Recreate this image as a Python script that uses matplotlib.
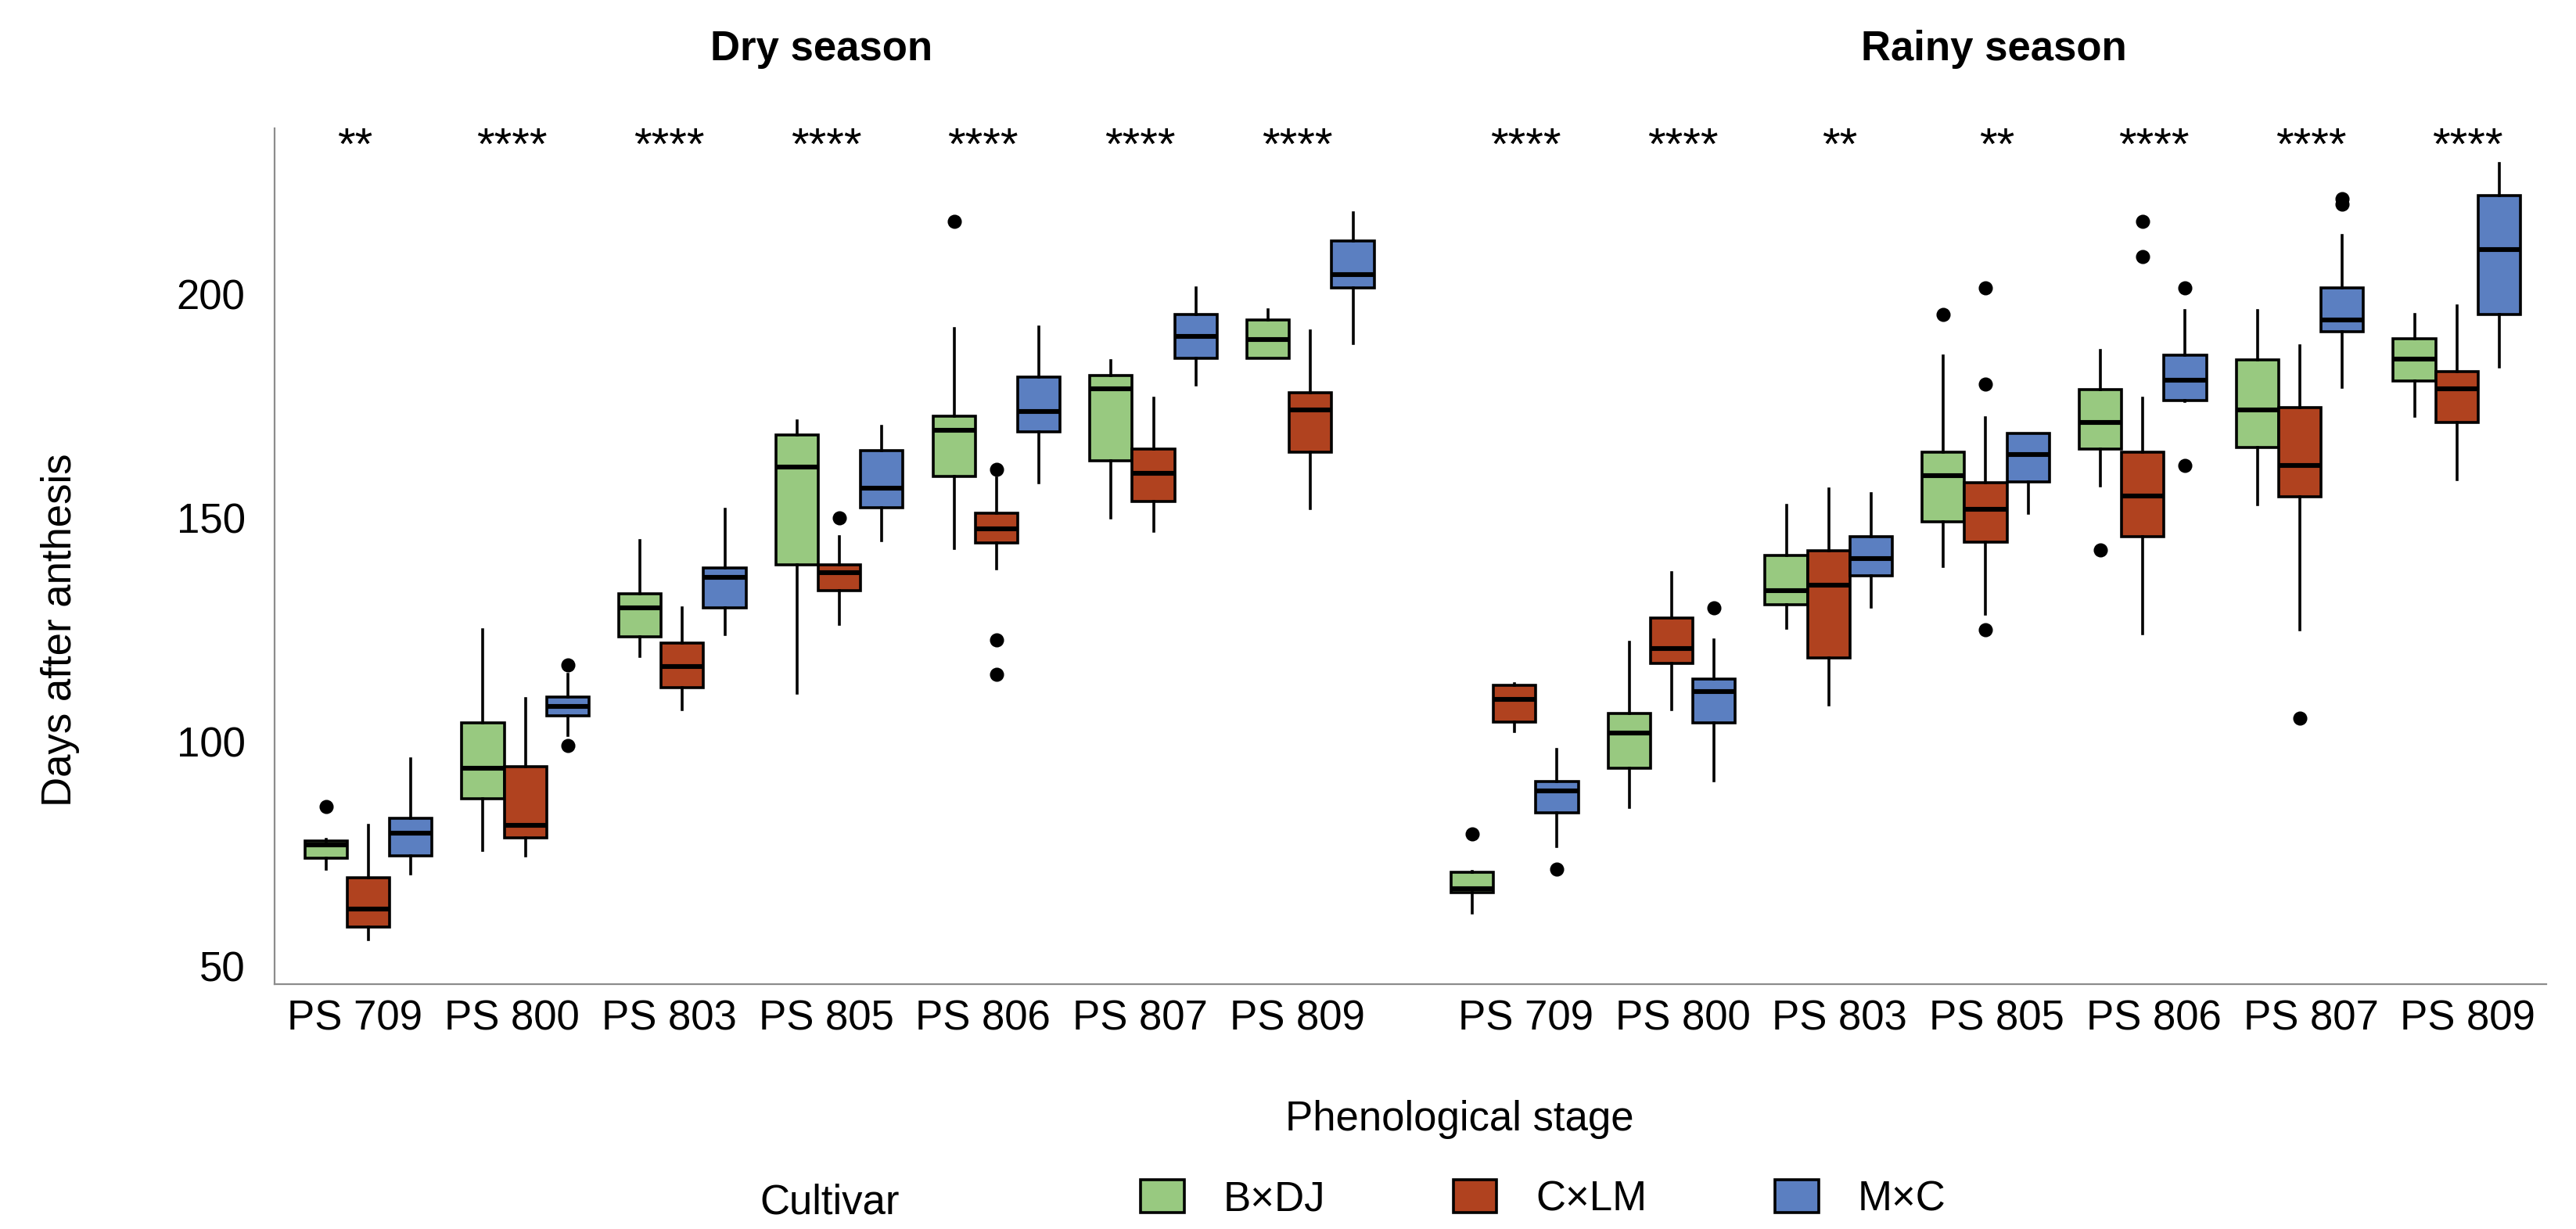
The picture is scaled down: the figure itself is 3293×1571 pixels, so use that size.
import matplotlib
matplotlib.use("Agg")
import matplotlib.pyplot as plt
from matplotlib.patches import Patch
import numpy as np

plt.rcParams['font.family'] = ['Liberation Sans', 'DejaVu Sans']

stages = ["PS 709", "PS 800", "PS 803", "PS 805", "PS 806", "PS 807", "PS 809"]
cultivars = ["B×DJ", "C×LM", "M×C"]
colors = ["#98C980", "#B0421F", "#5B7FC1"]

# significance labels per stage
dry_sig = ["**", "****", "****", "****", "****", "****", "****"]
rainy_sig = ["****", "****", "**", "**", "****", "****", "****"]

# box statistics, rows = cultivars (B×DJ, C×LM, M×C)
dry_lo = [[71.5, 75.8, 119.1, 110.9, 143.2, 150.0, 185.6],
          [55.8, 74.5, 107.3, 126.3, 138.7, 147.1, 152.1],
          [70.5, 101.4, 124.0, 144.9, 157.8, 179.7, 189.0]]
dry_q1 = [[74.0, 87.3, 123.5, 139.6, 159.2, 162.7, 185.6],
          [58.6, 78.5, 112.1, 133.7, 144.5, 153.7, 164.7],
          [74.5, 105.8, 129.9, 152.3, 169.2, 185.6, 201.3]]
dry_med = [[77.0, 94.2, 129.9, 161.3, 169.5, 178.8, 189.9],
           [62.6, 81.4, 116.9, 137.8, 147.6, 160.0, 174.1],
           [79.6, 107.9, 136.8, 156.7, 173.7, 190.5, 204.4]]
dry_q3 = [[77.8, 104.2, 133.1, 168.6, 172.7, 181.8, 194.2],
          [69.6, 94.5, 122.1, 139.6, 151.0, 165.3, 177.9],
          [82.9, 110.0, 138.8, 165.1, 181.4, 195.5, 211.9]]
dry_hi = [[78.2, 125.0, 144.9, 171.7, 192.3, 185.1, 196.4],
          [81.4, 109.6, 129.9, 145.8, 159.0, 176.7, 191.8],
          [96.2, 115.0, 151.9, 170.4, 192.6, 201.3, 218.1]]
dry_out = [[[85.5], [], [], [], [216.3], [], []],
           [[], [], [], [150.0], [160.9, 122.8, 115.1], [], []],
           [[], [117.1, 99.1], [], [], [], [], []]]

rainy_lo = [[61.8, 85.3, 125.3, 139.1, 157.1, 153.0, 172.8],
            [102.3, 107.3, 108.3, 128.5, 124.1, 125.0, 158.6],
            [76.7, 91.3, 130.1, 151.0, 176.0, 179.1, 183.7]]
rainy_q1 = [[66.3, 94.2, 130.6, 149.2, 165.4, 165.8, 180.6],
            [104.5, 117.6, 118.8, 144.6, 145.8, 154.7, 171.4],
            [84.1, 104.2, 137.1, 158.1, 176.3, 191.5, 195.5]]
rainy_med = [[67.3, 101.9, 133.8, 159.4, 171.3, 174.1, 185.4],
             [109.5, 120.8, 135.0, 152.0, 154.9, 161.7, 178.8],
             [89.1, 111.2, 141.0, 164.1, 180.8, 194.2, 210.0]]
rainy_q3 = [[70.9, 106.3, 141.7, 164.7, 178.7, 185.3, 190.0],
            [112.6, 127.6, 142.7, 157.8, 164.7, 174.6, 182.7],
            [91.2, 114.1, 145.9, 168.8, 186.4, 201.4, 221.9]]
rainy_hi = [[71.0, 122.2, 152.8, 186.2, 187.4, 196.3, 195.4],
            [113.0, 137.8, 156.5, 172.3, 176.7, 188.5, 197.3],
            [98.3, 122.7, 155.5, 168.8, 196.3, 213.1, 229.1]]
rainy_out = [[[79.4], [], [], [195.5], [142.8], [], []],
             [[], [], [], [201.3, 179.9, 125.0], [216.3, 208.3], [105.3], []],
             [[71.5], [130.0], [], [], [201.3, 161.8], [221.2, 220.1], []]]

fig = plt.figure(figsize=(16.465, 7.855), dpi=200)
ax = fig.add_axes([0.1066, 0.1992, 0.8819, 0.6964])

box_w = 0.27
group_x = np.arange(len(stages))
seasons = [
    (group_x, dry_lo, dry_q1, dry_med, dry_q3, dry_hi, dry_out, dry_sig, -0.085),
    (group_x + 7.3, rainy_lo, rainy_q1, rainy_med, rainy_q3, rainy_hi, rainy_out, rainy_sig, 0.07),
]

tick_pos, tick_lab = [], []
for xs, lo, q1, med, q3, hi, out, sig, shift in seasons:
    for c in range(len(cultivars)):
        stats = []
        for i in range(len(stages)):
            stats.append(dict(med=med[c][i], q1=q1[c][i], q3=q3[c][i],
                              whislo=lo[c][i], whishi=hi[c][i], fliers=out[c][i]))
        ax.bxp(stats, positions=xs + (c - 1) * box_w, widths=box_w,
               patch_artist=True, showcaps=False, manage_ticks=False,
               boxprops=dict(facecolor=colors[c], edgecolor='black', linewidth=1.3),
               medianprops=dict(color='black', linewidth=2.2),
               whiskerprops=dict(color='black', linewidth=1.3),
               flierprops=dict(marker='o', markerfacecolor='black',
                               markeredgecolor='black', markersize=5.5))
    for i in range(len(stages)):
        ax.text(xs[i] + shift, 230.0, sig[i], ha='center', va='baseline', fontsize=21)
    tick_pos += list(xs + shift)
    tick_lab += stages

ax.set_xlim(-0.597, 13.87)
ax.set_ylim(45.9, 237)
ax.set_xticks(tick_pos)
ax.set_xticklabels(tick_lab)
ax.set_yticks([50, 100, 150, 200])
ax.tick_params(axis='x', length=0, pad=7, labelsize=19)
ax.tick_params(axis='y', length=0, pad=13.5, labelsize=19)
for s in ['top', 'right']:
    ax.spines[s].set_visible(False)
for s in ['left', 'bottom']:
    ax.spines[s].set_color('#8c8c8c')
    ax.spines[s].set_linewidth(0.8)

fig.text(0.319, 0.951, "Dry season", ha='center', va='baseline', fontsize=19, fontweight='bold')
fig.text(0.774, 0.951, "Rainy season", ha='center', va='baseline', fontsize=19, fontweight='bold')
fig.text(0.0234, 0.4876, "Days after anthesis", rotation=90, ha='center', va='center', fontsize=19)
fig.text(0.5667, 0.0802, "Phenological stage", ha='center', va='baseline', fontsize=19)

fig.text(0.322, 0.0127, "Cultivar", ha='center', va='baseline', fontsize=19)
handles = [Patch(facecolor=col, edgecolor='black', linewidth=1.3) for col in colors]
fig.legend(handles, cultivars, loc='center left', bbox_to_anchor=(0.4348, 0.024),
           ncol=3, frameon=False, fontsize=19, borderpad=0, handlelength=1.05,
           handleheight=0.85, handletextpad=0.95, columnspacing=3.1)

fig.savefig("out.png", dpi=200)
